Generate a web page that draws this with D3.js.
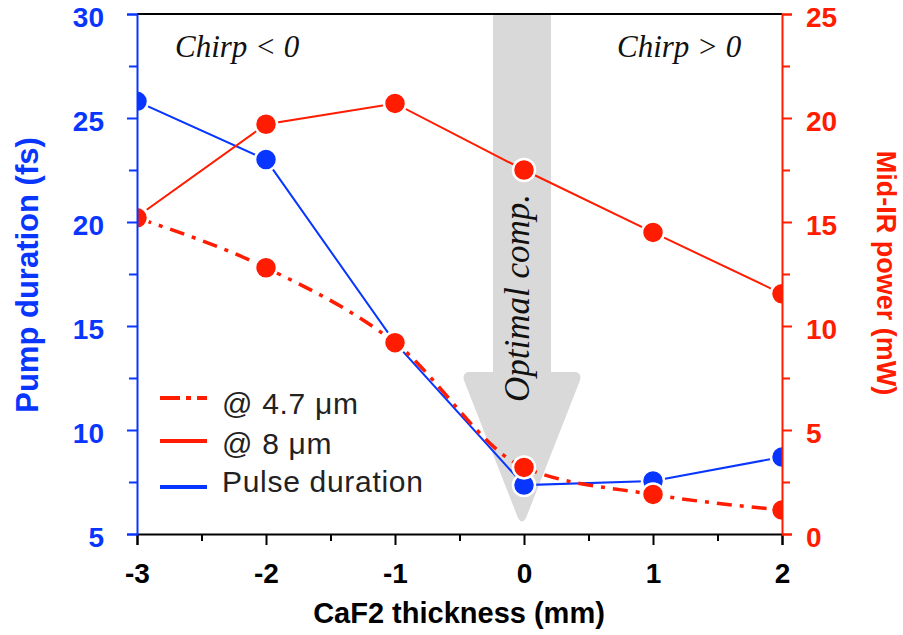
<!DOCTYPE html>
<html>
<head>
<meta charset="utf-8">
<script src="https://cdn.jsdelivr.net/npm/d3@7"></script>
<style>
  body { margin: 0; background: #fff; }
  svg { display: block; }
</style>
</head>
<body>
<svg id="chart" width="903" height="635"></svg>
<script>
// CaF2 thickness (mm)
const thickness = [-3, -2, -1, 0, 1, 2];
// Pump pulse duration (fs), left axis
const pulseDuration = [25.8, 23.0, 14.2, 7.35, 7.55, 8.7];
// Mid-IR power (mW), right axis
const power47 = [15.2, 12.8, 9.2, 3.2, 1.9, 1.15];
const power8 = [15.25, 19.7, 20.7, 17.5, 14.5, 11.55];

const xTicks = [-3, -2, -1, 0, 1, 2];
const leftTicks = [5, 10, 15, 20, 25, 30];
const rightTicks = [0, 5, 10, 15, 20, 25];

const BLUE = "#0836ff";
const RED = "#ff1c00";

const svg = d3.select("#chart");
const m = { left: 137, right: 782, top: 14, bottom: 534 };

const x = d3.scaleLinear().domain([-3, 2]).range([m.left, m.right]);
const yL = d3.scaleLinear().domain([5, 30]).range([m.bottom, m.top]);
const yR = d3.scaleLinear().domain([0, 25]).range([m.bottom, m.top]);

svg.append("defs").append("clipPath").attr("id", "plot-clip")
  .append("rect")
  .attr("x", m.left).attr("y", m.top)
  .attr("width", m.right - m.left).attr("height", m.bottom - m.top);

// Optimal compression arrow
const ax = x(0) - 2;
const arrow = d3.path();
arrow.moveTo(ax - 29, m.top);
arrow.lineTo(ax + 29, m.top);
arrow.lineTo(ax + 29, 372);
arrow.lineTo(ax + 54, 372);
arrow.quadraticCurveTo(ax + 61, 374, ax + 57, 383);
arrow.lineTo(ax + 4, 518);
arrow.quadraticCurveTo(ax, 525, ax - 4, 518);
arrow.lineTo(ax - 57, 383);
arrow.quadraticCurveTo(ax - 61, 374, ax - 54, 372);
arrow.lineTo(ax - 29, 372);
arrow.closePath();
svg.append("path").attr("d", arrow.toString()).attr("fill", "#d9d9d9");

svg.append("text")
  .attr("transform", `translate(${529},${298}) rotate(-90)`)
  .attr("text-anchor", "middle")
  .attr("font-family", "Liberation Serif, serif")
  .attr("font-style", "italic")
  .attr("font-size", 35)
  .attr("fill", "#111")
  .text("Optimal comp.");

// Chirp annotations
const serif = "Liberation Serif, serif";
svg.append("text").attr("x", 175).attr("y", 57)
  .attr("font-family", serif).attr("font-style", "italic")
  .attr("font-size", 31).attr("fill", "#111").text("Chirp < 0");
svg.append("text").attr("x", 617).attr("y", 57)
  .attr("font-family", serif).attr("font-style", "italic")
  .attr("font-size", 31).attr("fill", "#111").text("Chirp > 0");

// Data series
const plot = svg.append("g").attr("clip-path", "url(#plot-clip)");

const idx = d3.range(thickness.length);
const lineBlue = d3.line().x(i => x(thickness[i])).y(i => yL(pulseDuration[i]));
const line8 = d3.line().x(i => x(thickness[i])).y(i => yR(power8[i]));
const line47 = d3.line().x(i => x(thickness[i])).y(i => yR(power47[i])).curve(d3.curveMonotoneX);

plot.append("path").attr("d", lineBlue(idx)).attr("fill", "none")
  .attr("stroke", BLUE).attr("stroke-width", 2);
plot.append("path").attr("d", line8(idx)).attr("fill", "none")
  .attr("stroke", RED).attr("stroke-width", 2);
plot.append("path").attr("d", line47(idx)).attr("fill", "none")
  .attr("stroke", RED).attr("stroke-width", 3.5)
  .attr("stroke-dasharray", "15,8,4,8");

const R = 11;
plot.selectAll(".pb").data(idx).join("circle")
  .attr("cx", i => x(thickness[i])).attr("cy", i => yL(pulseDuration[i]))
  .attr("r", R).attr("fill", BLUE).attr("stroke", "#fff").attr("stroke-width", 2.5);
plot.selectAll(".p8").data(idx).join("circle")
  .attr("cx", i => x(thickness[i])).attr("cy", i => yR(power8[i]))
  .attr("r", R).attr("fill", RED).attr("stroke", "#fff").attr("stroke-width", 2.5);
plot.selectAll(".p47").data(idx).join("circle")
  .attr("cx", i => x(thickness[i])).attr("cy", i => yR(power47[i]))
  .attr("r", R).attr("fill", RED).attr("stroke", "#fff").attr("stroke-width", 2.5);

// Frame top
svg.append("line").attr("x1", m.left).attr("x2", m.right)
  .attr("y1", m.top).attr("y2", m.top).attr("stroke", "#000").attr("stroke-width", 2);

// Axes
const sans = "Liberation Sans, Arial, sans-serif";

const bottomAxis = svg.append("g").attr("transform", `translate(0,${m.bottom})`)
  .call(d3.axisBottom(x).tickValues(xTicks).tickSize(11).tickPadding(18));
svg.append("g").attr("transform", `translate(0,${m.bottom})`)
  .call(d3.axisBottom(x).tickValues(d3.range(-2.5, 2, 1)).tickFormat("").tickSize(7))
  .call(g => g.select(".domain").remove())
  .selectAll("line").attr("stroke", "#000").attr("stroke-width", 2);
bottomAxis.select(".domain").attr("stroke", "#000").attr("stroke-width", 2);
bottomAxis.selectAll(".tick line").attr("stroke", "#000").attr("stroke-width", 2);
bottomAxis.selectAll("text").attr("font-family", sans).attr("font-weight", "bold")
  .attr("font-size", 28).attr("fill", "#000").text(d => d < 0 ? "-" + Math.abs(d) : d);

const leftAxis = svg.append("g").attr("transform", `translate(${m.left},0)`)
  .call(d3.axisLeft(yL).tickValues(leftTicks).tickSize(10).tickPadding(23));
svg.append("g").attr("transform", `translate(${m.left},0)`)
  .call(d3.axisLeft(yL).tickValues(d3.range(7.5, 30, 5)).tickFormat("").tickSize(8))
  .call(g => g.select(".domain").remove())
  .selectAll("line").attr("stroke", BLUE).attr("stroke-width", 2);
leftAxis.select(".domain").attr("stroke", BLUE).attr("stroke-width", 2);
leftAxis.selectAll(".tick line").attr("stroke", BLUE).attr("stroke-width", 2);
leftAxis.selectAll("text").attr("font-family", sans).attr("font-weight", "bold")
  .attr("font-size", 28).attr("fill", BLUE).attr("dy", "0.45em");

const rightAxis = svg.append("g").attr("transform", `translate(${m.right},0)`)
  .call(d3.axisRight(yR).tickValues(rightTicks).tickSize(10).tickPadding(14));
svg.append("g").attr("transform", `translate(${m.right},0)`)
  .call(d3.axisRight(yR).tickValues(d3.range(2.5, 25, 5)).tickFormat("").tickSize(8))
  .call(g => g.select(".domain").remove())
  .selectAll("line").attr("stroke", RED).attr("stroke-width", 2);
rightAxis.select(".domain").attr("stroke", RED).attr("stroke-width", 2);
rightAxis.selectAll(".tick line").attr("stroke", RED).attr("stroke-width", 2);
rightAxis.selectAll("text").attr("font-family", sans).attr("font-weight", "bold")
  .attr("font-size", 28).attr("fill", RED).attr("dy", "0.45em");

// Axis titles
svg.append("text")
  .attr("transform", `translate(${30},${275}) rotate(-90)`)
  .attr("text-anchor", "middle").attr("dominant-baseline", "middle")
  .attr("font-family", sans).attr("font-weight", "bold").attr("font-size", 31)
  .attr("fill", BLUE).text("Pump duration (fs)");
svg.append("text")
  .attr("transform", `translate(${884},${273}) rotate(90)`)
  .attr("text-anchor", "middle").attr("dominant-baseline", "middle")
  .attr("font-family", sans).attr("font-weight", "bold").attr("font-size", 27)
  .attr("fill", RED).text("Mid-IR power (mW)");
svg.append("text")
  .attr("x", 459).attr("y", 623)
  .attr("text-anchor", "middle")
  .attr("font-family", sans).attr("font-weight", "bold").attr("font-size", 29)
  .attr("fill", "#000").text("CaF2 thickness (mm)");

// Legend
const legend = [
  { label: "@ 4.7 \u03BCm", color: RED, dash: "20,6,5,6", ly: 398, ty: 414 },
  { label: "@ 8 \u03BCm", color: RED, dash: null, ly: 441, ty: 454 },
  { label: "Pulse duration", color: BLUE, dash: null, ly: 487, ty: 492 }
];
const lg = svg.append("g");
legend.forEach(d => {
  lg.append("line").attr("x1", 160).attr("x2", 207).attr("y1", d.ly).attr("y2", d.ly)
    .attr("stroke", d.color).attr("stroke-width", 4)
    .attr("stroke-dasharray", d.dash);
  lg.append("text").attr("x", 222).attr("y", d.ty)
    .attr("font-family", sans).attr("font-size", 30).attr("letter-spacing", 0.7)
    .attr("fill", "#222")
    .text(d.label);
});
</script>
</body>
</html>
